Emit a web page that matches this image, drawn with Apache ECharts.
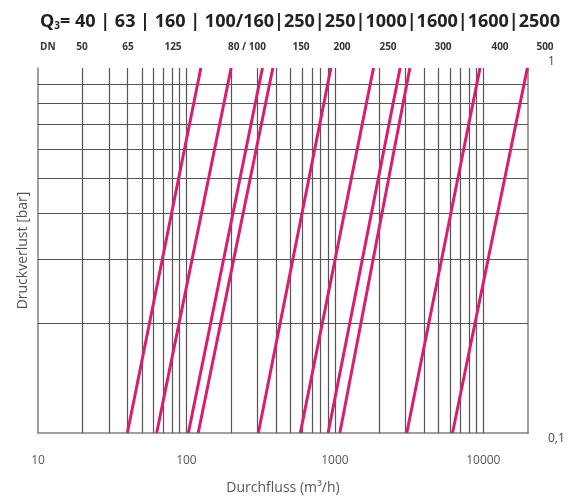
<!DOCTYPE html>
<html>
<head>
<meta charset="utf-8">
<script src="https://cdn.jsdelivr.net/npm/echarts@6/dist/echarts.min.js"></script>
<style>html,body{margin:0;padding:0;background:#fff;}#chart{width:573px;height:501px;}</style>
</head>
<body>
<div id="chart"></div>
<script>
// ---- data ----
const q3Labels = ['40', '63', '160', '100/160', '250', '250', '1000', '1600', '1600', '2500'];
const dnLabels = ['50', '65', '125', '80 / 100', '150', '200', '250', '300', '400', '500'];
// flow (m³/h) of each curve at 0.1 bar and at 1 bar
const flowAt01bar = [40, 63, 103, 120, 305, 585, 900, 1080, 3050, 6200];
const flowAt1bar = [125, 200, 325, 382, 940, 1820, 2750, 3200, 9500, 19800];
const xTickValues = [10, 100, 1000, 10000];
const xTickLabels = ['10', '100', '1000', '10000'];
const yTickValues = [0.1, 1];
const yTickLabels = ['0,1', '1'];
const xGridValues = [20, 30, 40, 50, 60, 70, 80, 90, 100, 200, 300, 400, 500, 600, 700, 800, 900, 1000,
  2000, 3000, 4000, 5000, 6000, 7000, 8000, 9000, 10000];
const yGridValues = [0.2, 0.3, 0.4, 0.5, 0.6, 0.7, 0.8, 0.9];

// ---- layout ----
const dnCenters = [82, 128, 173, 247, 301, 342, 388, 443, 500, 545];
const lineColor = '#d81e73';
const gridColor = '#555555';

function tickFmt(values, labels) {
  return function (v) {
    for (let i = 0; i < values.length; i++) {
      if (Math.abs(v - values[i]) <= 1e-6 * values[i]) return labels[i];
    }
    return '';
  };
}

const chart = echarts.init(document.getElementById('chart'), null, {renderer: 'canvas'});

const series = [];
series.push({
  type: 'line', xAxisIndex: 0, yAxisIndex: 0,
  data: [[10, 0.1]], showSymbol: false, symbol: 'none',
  lineStyle: {opacity: 0}, silent: true, z: 1,
  markLine: {
    silent: true, symbol: 'none', animation: false,
    label: {show: false},
    lineStyle: {color: gridColor, width: 1.2, type: 'solid'},
    data: xGridValues.map(v => ({xAxis: v})).concat(yGridValues.map(v => ({yAxis: v})))
  }
});
for (let i = 0; i < flowAt01bar.length; i++) {
  series.push({
    type: 'line', xAxisIndex: 0, yAxisIndex: 0,
    data: [[flowAt01bar[i], 0.1], [flowAt1bar[i], 1]],
    symbol: 'none', silent: true, z: 5,
    lineStyle: {color: lineColor, width: 3}
  });
}

const graphics = [];
const q3Text = '{q|Q}{s|3}{q|= ' + q3Labels.slice(0, 4).join(' | ') + '|' + q3Labels.slice(4).join('|') + '}';
graphics.push({
  type: 'text', left: 40, top: 13,
  style: {
    text: q3Text,
    rich: {
      q: {fontFamily: 'Open Sans', fontWeight: 'bold', fontSize: 18, fill: '#222'},
      s: {fontFamily: 'Open Sans', fontWeight: 'bold', fontSize: 10, fill: '#222', padding: [9, 0, 0, 0]}
    }
  }
});
graphics.push({
  type: 'text', x: 40, y: 47,
  style: {text: 'DN', fontFamily: 'Open Sans', fontWeight: 'bold', fontSize: 10, fill: '#333', verticalAlign: 'middle'}
});
dnLabels.forEach((t, i) => {
  graphics.push({
    type: 'text', x: dnCenters[i], y: 47,
    style: {text: t, fontFamily: 'Open Sans', fontWeight: 'bold', fontSize: 10, fill: '#333', align: 'center', verticalAlign: 'middle'}
  });
});

chart.setOption({
  animation: false,
  backgroundColor: '#fff',
  grid: {left: 38, right: 45, top: 68, bottom: 68},
  xAxis: [{
    type: 'log', logBase: 10, min: 10, max: 20000,
    axisLine: {show: true, lineStyle: {color: '#808080', width: 1.5}},
    axisTick: {show: false},
    splitLine: {show: false},
    axisLabel: {color: '#555', fontSize: 12, fontFamily: 'Open Sans', margin: 22,
      showMaxLabel: false, formatter: tickFmt(xTickValues, xTickLabels)},
    name: 'Durchfluss (m³/h)', nameLocation: 'middle', nameGap: 48,
    nameTextStyle: {color: '#555', fontSize: 14, fontFamily: 'Open Sans'}
  }],
  yAxis: [{
    type: 'log', logBase: 10, min: 0.1, max: 1, position: 'left',
    axisLine: {show: true, lineStyle: {color: '#808080', width: 1.5}},
    axisTick: {show: false}, splitLine: {show: false},
    axisLabel: {show: false},
    name: 'Druckverlust [bar]', nameLocation: 'middle', nameGap: 8, nameRotate: 90,
    nameTextStyle: {color: '#555', fontSize: 14, fontFamily: 'Open Sans'}
  }, {
    type: 'log', logBase: 10, min: 0.1, max: 1, position: 'right',
    axisLine: {show: true, lineStyle: {color: '#808080', width: 1.5}},
    axisTick: {show: false}, splitLine: {show: false},
    axisLabel: {color: '#444', fontSize: 12, fontFamily: 'Open Sans', margin: 20,
      formatter: tickFmt(yTickValues, yTickLabels),
      verticalAlignMinLabel: 'top', verticalAlignMaxLabel: 'bottom'}
  }],
  series: series,
  graphic: graphics
});
</script>
</body>
</html>
